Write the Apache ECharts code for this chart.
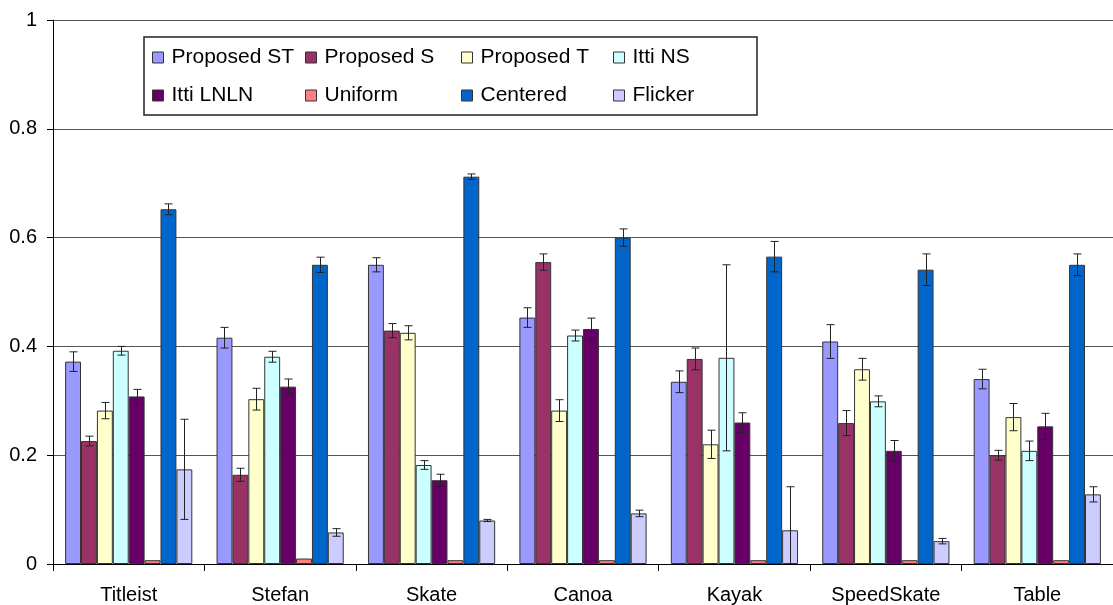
<!DOCTYPE html>
<html lang="en">
<head>
  <meta charset="UTF-8">
  <title>Saliency comparison</title>
  <style>
    html, body { margin: 0; padding: 0; background: #fff; }
  </style>
</head>
<body>
  <div id="chart" style="width: 1113px; height: 605px;"></div>
  <script src="https://cdn.jsdelivr.net/npm/echarts@6/dist/echarts.min.js"></script>
  <script>
    // Data

    const categories = ["Titleist", "Stefan", "Skate", "Canoa", "Kayak", "SpeedSkate", "Table"];
    const seriesNames = ["Proposed ST", "Proposed S", "Proposed T", "Itti NS", "Itti LNLN", "Uniform", "Centered", "Flicker"];
    const yTicks = [0, 0.2, 0.4, 0.6, 0.8, 1];

    const proposedST = [0.372, 0.416, 0.550, 0.453, 0.335, 0.409, 0.340];
    const proposedS  = [0.226, 0.164, 0.429, 0.555, 0.377, 0.259, 0.200];
    const proposedT  = [0.282, 0.303, 0.425, 0.282, 0.220, 0.358, 0.270];
    const ittiNS     = [0.392, 0.381, 0.182, 0.420, 0.379, 0.299, 0.208];
    const ittiLNLN   = [0.308, 0.326, 0.154, 0.432, 0.260, 0.208, 0.253];
    const uniform    = [0.007, 0.010, 0.007, 0.007, 0.007, 0.007, 0.007];
    const centered   = [0.652, 0.550, 0.712, 0.600, 0.565, 0.541, 0.550];
    const flicker    = [0.174, 0.058, 0.080, 0.093, 0.062, 0.042, 0.128];

    const errST       = [0.018, 0.019, 0.013, 0.018, 0.020, 0.031, 0.018];
    const errS        = [0.009, 0.012, 0.013, 0.015, 0.020, 0.023, 0.009];
    const errT        = [0.015, 0.020, 0.013, 0.020, 0.026, 0.020, 0.025];
    const errNS       = [0.008, 0.010, 0.008, 0.010, 0.171, 0.010, 0.018];
    const errLNLN     = [0.013, 0.014, 0.011, 0.020, 0.018, 0.019, 0.024];
    const errUniform  = [0, 0, 0, 0, 0, 0, 0];
    const errCentered = [0.010, 0.014, 0.005, 0.016, 0.028, 0.029, 0.020];
    const errFlicker  = [0.092, 0.007, 0.002, 0.006, 0.080, 0.005, 0.014];

    const values = [proposedST, proposedS, proposedT, ittiNS, ittiLNLN, uniform, centered, flicker];
    const errors = [errST, errS, errT, errNS, errLNLN, errUniform, errCentered, errFlicker];
    const colors = ["#9999FF", "#993366", "#FFFFCC", "#CCFFFF", "#660066", "#FF8080", "#0066CC", "#CCCCFF"];

    const FONT = "'Liberation Sans', Arial, sans-serif";
    const CAT_GAP = 0.16;

    const chart = echarts.init(document.getElementById("chart"), null, { renderer: "canvas" });

    // bars
    const barSeries = seriesNames.map((name, i) => ({
      name: name,
      type: "bar",
      data: values[i],
      barGap: "0%",
      barCategoryGap: (CAT_GAP * 100) + "%",
      itemStyle: { color: colors[i], borderColor: "#333", borderWidth: 1 },
      z: 2
    }));

    // error bars, one custom series covering all groups
    const errData = [];
    values.forEach((vals, s) => {
      vals.forEach((v, c) => {
        if (errors[s][c] > 0) errData.push([c, s, v, errors[s][c]]);
      });
    });

    const errSeries = {
      type: "custom",
      name: "err",
      data: errData,
      encode: { x: 0, y: 2 },
      z: 5,
      silent: true,
      renderItem: (params, api) => {
        const c = api.value(0), s = api.value(1), v = api.value(2), e = api.value(3);
        const band = api.size([1, 0])[0];
        const barW = band * (1 - CAT_GAP) / seriesNames.length;
        const center = api.coord([c, v])[0];
        const x = Math.round(center - barW * seriesNames.length / 2 + (s + 0.5) * barW) + 0.5;
        const yHi = api.coord([c, v + e])[1];
        const yLo = api.coord([c, Math.max(0, v - e)])[1];
        const style = { stroke: "#222", lineWidth: 1 };
        const children = [
          { type: "line", shape: { x1: x, y1: yHi, x2: x, y2: yLo }, style: style },
          { type: "line", shape: { x1: x - 4, y1: yHi, x2: x + 4, y2: yHi }, style: style }
        ];
        if (v - e >= 0) {
          children.push({ type: "line", shape: { x1: x - 4, y1: yLo, x2: x + 4, y2: yLo }, style: style });
        }
        return { type: "group", children: children };
      }
    };

    // legend: one component per column, two rows each
    const legendCols = [152, 305, 461, 613];
    const legends = legendCols.map((left, k) => ({
      orient: "vertical",
      left: left,
      top: 47,
      padding: 0,
      itemGap: 17,
      itemWidth: 11,
      itemHeight: 11,
      icon: "rect",
      selectedMode: false,
      z: 6,
      data: [seriesNames[k], seriesNames[k + 4]],
      itemStyle: { borderColor: "#333", borderWidth: 1 },
      textStyle: { fontFamily: FONT, fontSize: 21, color: "#000", lineHeight: 21, padding: [0, 0, 0, 3] }
    }));

    const option = {
      animation: false,
      backgroundColor: "#fff",
      grid: { left: 53, right: -9, top: 20, bottom: 38, containLabel: false },
      legend: legends,
      graphic: [{
        type: "rect",
        shape: { x: 144, y: 37, width: 613, height: 78 },
        style: { fill: "#fff", stroke: "#222", lineWidth: 1.5 },
        z: 1
      }],
      xAxis: {
        type: "category",
        data: categories,
        axisLine: { lineStyle: { color: "#000", width: 1 } },
        axisTick: { show: true, length: 7, lineStyle: { color: "#000" } },
        axisLabel: { fontFamily: FONT, fontSize: 20, color: "#000", margin: 21 }
      },
      yAxis: {
        type: "value",
        min: yTicks[0],
        max: yTicks[yTicks.length - 1],
        interval: yTicks[1] - yTicks[0],
        axisLine: { show: true, lineStyle: { color: "#000", width: 1 } },
        axisTick: { show: true, length: 6, lineStyle: { color: "#000" } },
        splitLine: { show: true, lineStyle: { color: "#555", width: 1 } },
        axisLabel: {
          fontFamily: FONT, fontSize: 20, color: "#000", margin: 16,
          formatter: (v) => String(Math.round(v * 10) / 10)
        }
      },
      series: [...barSeries, errSeries]
    };

    chart.setOption(option);
  </script>
</body>
</html>
